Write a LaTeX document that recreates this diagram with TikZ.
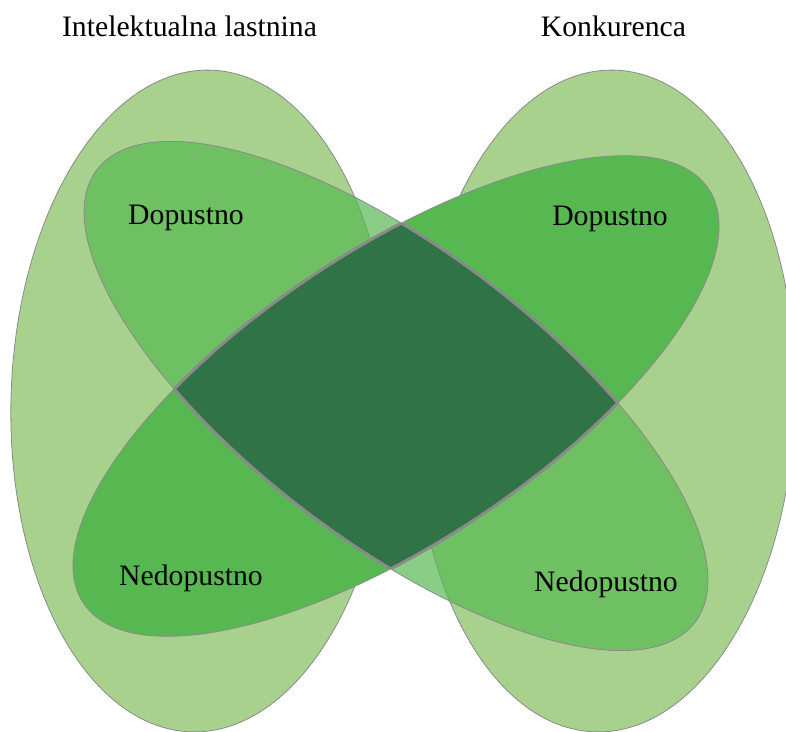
\documentclass[tikz,border=0pt]{standalone}
\usepackage{fontspec}
\setmainfont{Liberation Serif}
\definecolor{bigc}{HTML}{A9D18E}
\definecolor{midg}{HTML}{57B852}
\definecolor{darkg}{HTML}{2F7346}
\definecolor{linec}{HTML}{8A8A8A}
\begin{document}
\begin{tikzpicture}[x=1pt,y=1pt,
  bigell/.style={fill=bigc, draw=linec, line width=0.8pt},
  tiltell/.style={fill=midg, draw=linec, line width=0.8pt},
  lbl/.style={anchor=base, inner sep=0pt, font=\fontsize{29.7}{34}\selectfont, text=black}]
\useasboundingbox (0,0) rectangle (786,731);
\begin{scope}
\clip (0,0) rectangle (786,731);
% large vertical ellipses
\path[bigell, rotate around={-1.7:(201,330)}] (201,330) ellipse [x radius=190, y radius=331];
\path[bigell, rotate around={-1.7:(605,330)}] (605,330) ellipse [x radius=190, y radius=331];
% tilted ellipse TR-BL (opaque)
\path[tiltell, rotate around={33.5:(396,335)}] (396,335) ellipse [x radius=375, y radius=146.4];
% tilted ellipse TL-BR (semi-transparent)
\path[tiltell, fill opacity=0.7, rotate around={-37.1:(396,335)}] (396,335) ellipse [x radius=375, y radius=146.4];
% central intersection
\begin{scope}
  \clip[rotate around={33.5:(396,335)}] (396,335) ellipse [x radius=375, y radius=146.4];
  \fill[darkg, rotate around={-37.1:(396,335)}] (396,335) ellipse [x radius=375, y radius=146.4];
  \draw[linec, line width=3pt, rotate around={-37.1:(396,335)}] (396,335) ellipse [x radius=375, y radius=146.4];
\end{scope}
\begin{scope}
  \clip[rotate around={-37.1:(396,335)}] (396,335) ellipse [x radius=375, y radius=146.4];
  \draw[linec, line width=3pt, rotate around={33.5:(396,335)}] (396,335) ellipse [x radius=375, y radius=146.4];
\end{scope}
\end{scope}
% labels
\node[lbl] (il) at (189.5,694) {Intelektualna lastnina};
\node[lbl] (ko) at (613.5,694) {Konkurenca};
\node[lbl] (dl) at (186,506) {Dopustno};
\node[lbl] (dr) at (610,505) {Dopustno};
\node[lbl] (nl) at (191,146) {Nedopustno};
\node[lbl] (nr) at (606,140) {Nedopustno};
\end{tikzpicture}
\end{document}
